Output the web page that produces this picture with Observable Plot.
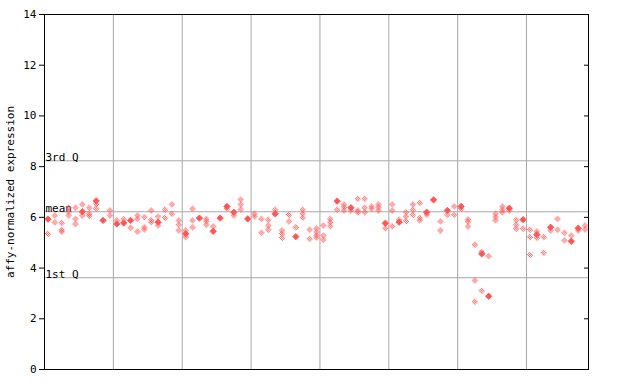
<!DOCTYPE html>
<html>
<head>
<meta charset="utf-8">
<script src="https://cdn.jsdelivr.net/npm/d3@7"></script>
<script src="https://cdn.jsdelivr.net/npm/@observablehq/plot@0.6"></script>
<style>
  html, body { margin: 0; padding: 0; background: #fff; }
  svg { display: block; }
</style>
</head>
<body>
<div id="chart"></div>
<script>
// Y-axis ticks and reference lines
const yTicks = [0, 2, 4, 6, 8, 10, 12, 14];
const yLabel = "affy-normalized expression";
const refLabels = ["3rd Q", "mean", "1st Q"];
const refValues = [8.23, 6.22, 3.62];
// group separators (sample column index)
const groupBreaks = [10, 20, 30, 40, 50, 60, 70];
const nColumns = 79;

// Per-sample replicate values: hatched (open) diamonds
const hatchedValues = [
  [5.35], [6.07, 5.80], [5.78, 5.50, 5.43], [6.38, 6.22, 6.07], [6.38, 5.94, 5.74],
  [6.51, 6.07], [6.38, 6.14, 6.06], [6.52, 6.34], [], [6.27, 6.07],
  [5.88], [5.93], [5.59], [6.07, 5.94, 5.44], [6.01, 5.61, 5.52],
  [6.27, 5.90, 5.81], [6.03, 5.68], [6.30, 5.98], [6.51, 6.14], [5.88, 5.71, 5.48],
  [5.48, 5.22], [6.34, 5.88, 5.61], [], [5.94, 5.85, 5.71], [5.64],
  [], [6.34], [6.07], [6.70, 6.51, 6.31], [],
  [6.14, 6.03], [5.94, 5.39], [5.90, 5.68, 5.51], [6.30], [5.48, 5.35, 5.19],
  [6.10, 5.84], [5.61], [6.30, 6.14, 5.98], [5.51, 5.15], [5.56, 5.42, 5.29, 5.20],
  [5.68, 5.28, 5.12], [5.94, 5.81, 5.65], [6.30], [6.51, 6.40, 6.27], [6.27],
  [6.73, 6.27, 6.20], [6.73, 6.38, 6.20], [6.43, 6.34], [6.51, 6.40, 6.27], [5.57],
  [6.51, 6.27, 5.65], [5.91], [6.20, 6.03, 5.85], [6.51, 6.30, 6.10], [6.57, 5.97, 5.88],
  [6.10], [], [5.84, 5.48], [6.10], [6.43, 6.10],
  [6.34], [5.92, 5.83, 5.64], [4.92, 3.51, 2.67], [4.63, 3.10], [4.47],
  [6.14, 6.01, 5.88], [6.43, 6.30, 6.20], [6.27], [5.90, 5.71, 5.55], [5.55],
  [5.51, 5.22, 4.52], [5.44, 5.19], [5.22, 4.60], [5.48], [5.94, 5.51],
  [5.39, 5.09], [5.28], [5.48], [5.68, 5.52]
];
// Per-sample replicate values: filled diamonds
const filledValues = [
  [5.93], [], [], [], [],
  [6.22], [], [6.65], [5.88], [],
  [5.74], [5.78], [5.88], [], [],
  [], [5.81], [], [], [],
  [5.35], [], [5.97], [], [5.45],
  [5.97], [6.43], [6.20], [], [5.94],
  [], [], [], [6.14], [],
  [], [5.24], [], [], [],
  [], [], [6.64], [], [6.38],
  [], [], [], [], [5.77],
  [], [5.81], [], [], [],
  [6.20], [6.69], [], [6.27], [],
  [6.43], [], [], [4.56], [2.89],
  [], [], [6.36], [], [5.91],
  [], [5.32], [], [5.61], [],
  [], [5.06], [5.57], []
];

const red = "#ff5555";
const font = "DejaVu Sans Mono";

const hatched = hatchedValues.flatMap((vals, i) => vals.map(v => ({col: i + 0.5, value: v})));
const filled = filledValues.flatMap((vals, i) => vals.map(v => ({col: i + 0.5, value: v})));
const refs = refLabels.map((label, i) => ({label, value: refValues[i]}));

const chart = Plot.plot({
  width: 640,
  height: 384,
  marginLeft: 44,
  marginRight: 52,
  marginTop: 14,
  marginBottom: 15,
  style: {fontFamily: font, fontSize: "11px", background: "#fff", color: "#000"},
  x: {domain: [0, nColumns], axis: null},
  y: {domain: [0, 14], axis: null},
  marks: [
    Plot.ruleX(groupBreaks, {stroke: "#a8a8a8", strokeWidth: 1}),
    Plot.ruleY(refValues, {stroke: "#a8a8a8", strokeWidth: 1}),
    Plot.text(refs, {y: "value", text: "label", frameAnchor: "left", textAnchor: "start", lineAnchor: "bottom", dx: 1, dy: 0, fill: "#000", fontSize: 11}),
    Plot.dot(hatched, {x: "col", y: "value", symbol: "diamond2", r: 3.1, fill: red, stroke: "none", className: "hatched"}),
    Plot.dot(filled, {x: "col", y: "value", symbol: "diamond2", r: 2.9, fill: red, stroke: red, strokeWidth: 0.8}),
    Plot.axisY(yTicks, {anchor: "left", tickSize: 5, tickPadding: 3, fontSize: 11, label: null}),
    Plot.axisY(yTicks, {anchor: "right", tickSize: -5, tickFormat: () => "", label: null}),
    Plot.text([yLabel], {text: d => d, frameAnchor: "left", textAnchor: "middle", rotate: -90, dx: -34, fontSize: 11, fill: "#000"}),
    Plot.frame({stroke: "#000", strokeWidth: 1})
  ]
});

// checkerboard pattern for hatched diamonds
const svg = d3.select(chart);
const defs = svg.insert("defs", ":first-child");
const pat = defs.append("pattern").attr("id", "hatch").attr("patternUnits", "userSpaceOnUse")
  .attr("width", 2).attr("height", 2);
pat.append("rect").attr("x", 0).attr("y", 0).attr("width", 1).attr("height", 1).attr("fill", red);
pat.append("rect").attr("x", 1).attr("y", 1).attr("width", 1).attr("height", 1).attr("fill", red);
svg.selectAll("g.hatched").attr("fill", "url(#hatch)");
svg.selectAll("g.hatched path").attr("fill", null);

document.getElementById("chart").appendChild(chart);
</script>
</body>
</html>
